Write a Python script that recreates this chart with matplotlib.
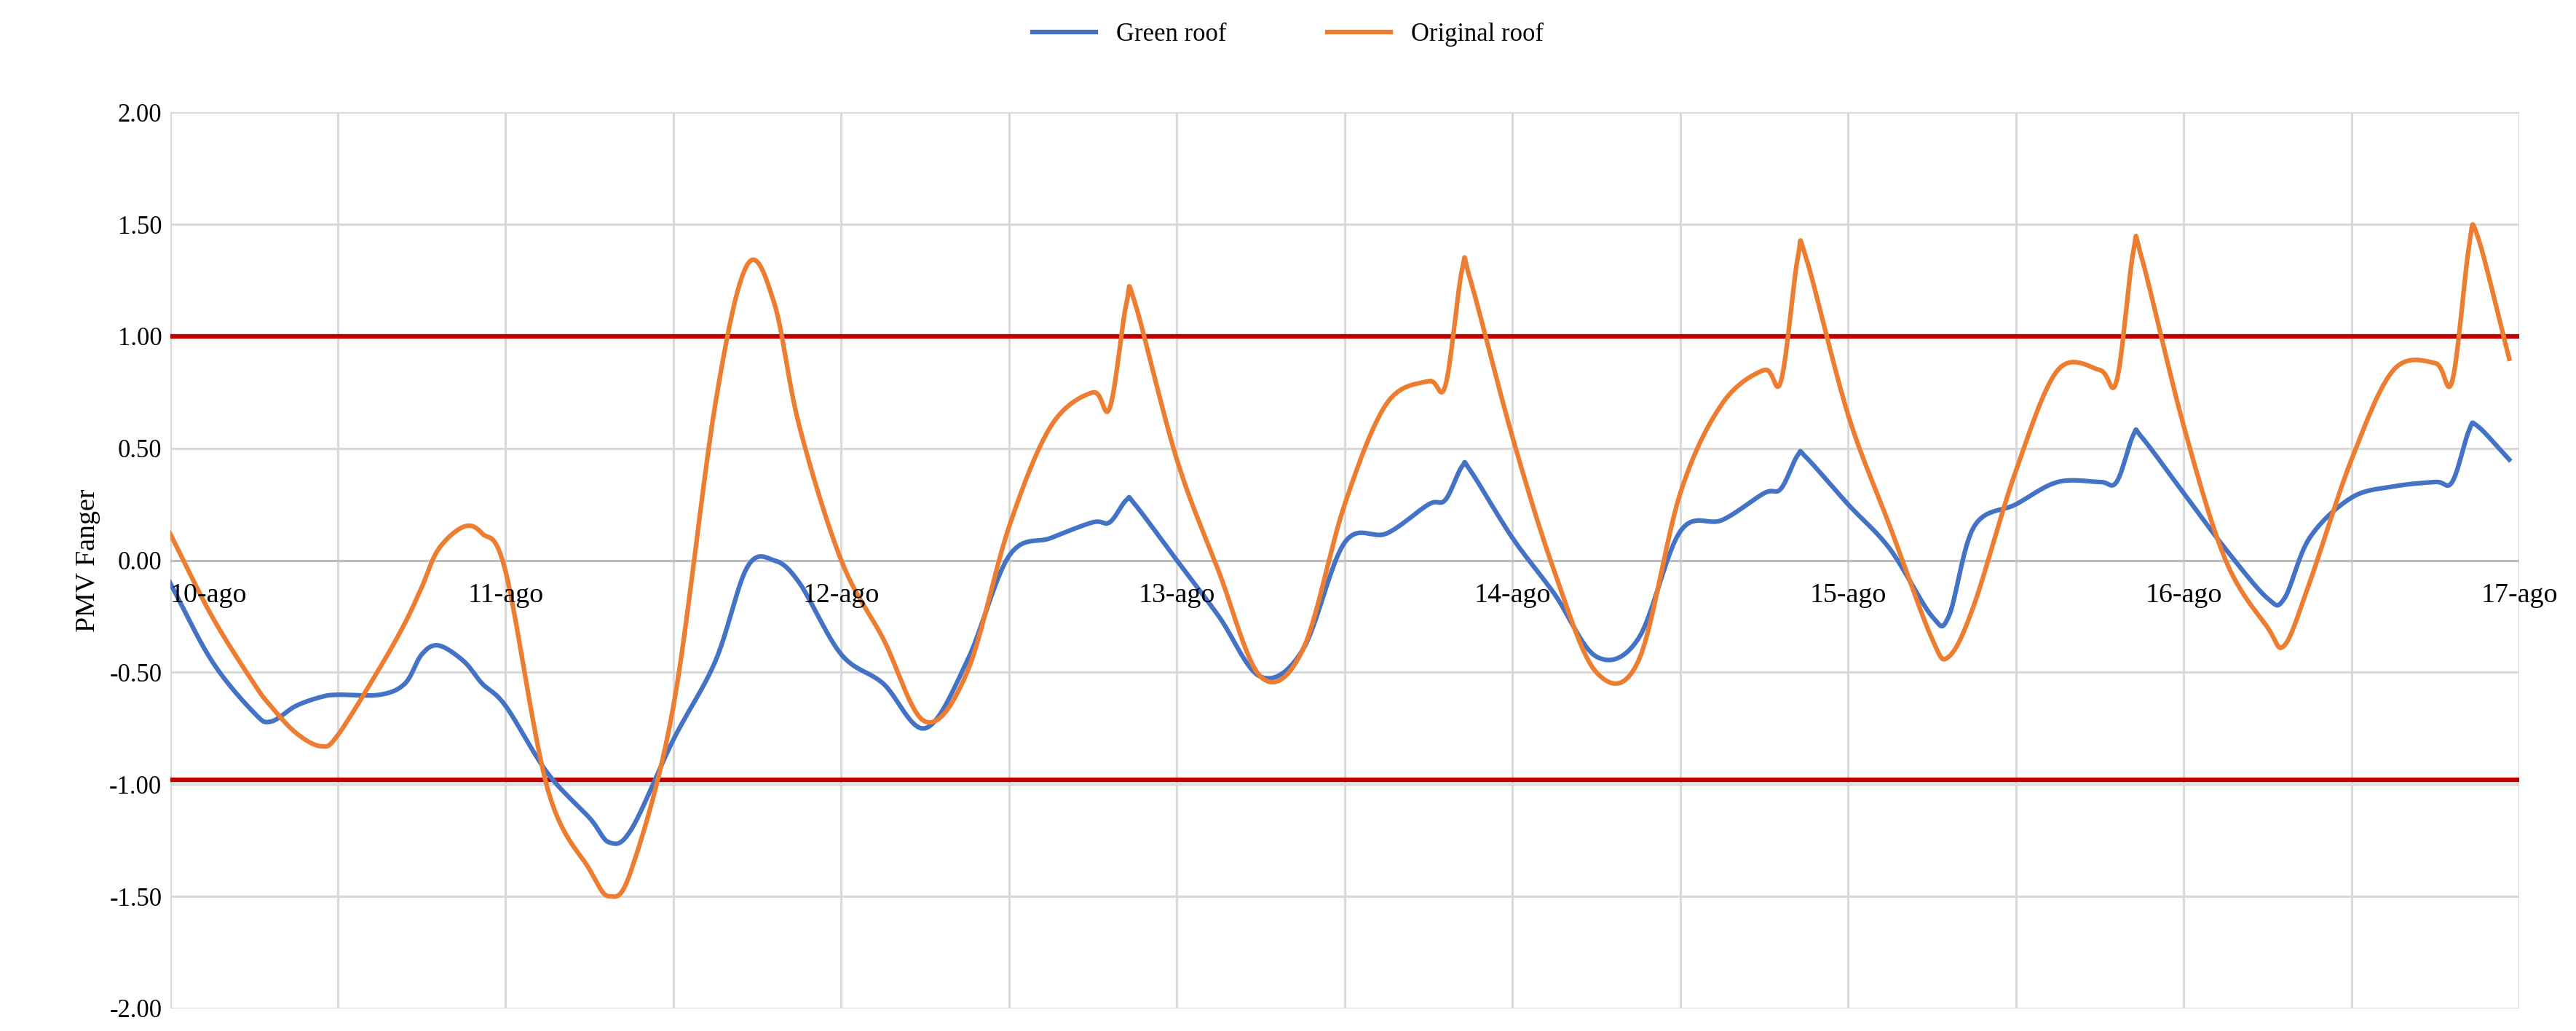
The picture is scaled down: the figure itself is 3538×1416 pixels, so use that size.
import numpy as np
import matplotlib
matplotlib.use("Agg")
import matplotlib.pyplot as plt

plt.rcParams["font.family"] = ["Liberation Serif", "DejaVu Serif"]

# time in days from 10-ago
days = [0, 0.125, 0.25, 0.3, 0.375, 0.45, 0.5, 0.625, 0.7, 0.75, 0.8, 0.875, 0.93,
        1.0, 1.125, 1.25, 1.31, 1.375, 1.5, 1.625, 1.72, 1.8, 1.875,
        2.0, 2.125, 2.25, 2.375, 2.5, 2.625, 2.75, 2.8, 2.85, 2.875,
        3.0, 3.125, 3.25, 3.375, 3.5, 3.625, 3.75, 3.8, 3.85, 3.875,
        4.0, 4.125, 4.25, 4.375, 4.5, 4.625, 4.75, 4.8, 4.85, 4.875,
        5.0, 5.125, 5.25, 5.3, 5.375, 5.5, 5.625, 5.75, 5.8, 5.85, 5.875,
        6.0, 6.125, 6.25, 6.3, 6.375, 6.5, 6.625, 6.75, 6.8, 6.85, 6.875, 6.97]

green = [-0.10, -0.45, -0.68, -0.72, -0.65, -0.61, -0.60, -0.60, -0.55, -0.42, -0.38, -0.45, -0.55,
         -0.65, -0.95, -1.15, -1.26, -1.20, -0.80, -0.45, -0.03, 0.00, -0.10,
         -0.42, -0.55, -0.75, -0.45, 0.02, 0.10, 0.17, 0.17, 0.27, 0.25,
         0.00, -0.25, -0.52, -0.40, 0.08, 0.12, 0.25, 0.27, 0.42, 0.40,
         0.10, -0.15, -0.43, -0.35, 0.13, 0.18, 0.30, 0.32, 0.47, 0.46,
         0.25, 0.05, -0.25, -0.25, 0.15, 0.25, 0.35, 0.35, 0.35, 0.56, 0.55,
         0.30, 0.05, -0.17, -0.17, 0.10, 0.28, 0.33, 0.35, 0.35, 0.58, 0.60, 0.45]

original = [0.12, -0.25, -0.55, -0.65, -0.77, -0.83, -0.78, -0.48, -0.28, -0.12, 0.05, 0.15, 0.12,
            -0.05, -1.02, -1.38, -1.50, -1.38, -0.65, 0.70, 1.32, 1.15, 0.60,
            0.00, -0.35, -0.72, -0.50, 0.15, 0.60, 0.75, 0.68, 1.15, 1.15,
            0.45, -0.05, -0.52, -0.40, 0.25, 0.70, 0.80, 0.78, 1.30, 1.25,
            0.55, -0.05, -0.50, -0.45, 0.30, 0.70, 0.85, 0.80, 1.35, 1.35,
            0.65, 0.15, -0.35, -0.43, -0.20, 0.40, 0.85, 0.85, 0.80, 1.38, 1.35,
            0.60, 0.00, -0.30, -0.38, -0.10, 0.45, 0.85, 0.88, 0.80, 1.40, 1.45, 0.90]

day_labels = ["10-ago", "11-ago", "12-ago", "13-ago", "14-ago", "15-ago", "16-ago", "17-ago"]
limits = [1.0, -0.98]


def smooth(x, y, n=12):
    # Catmull-Rom spline through the points, like Excel's smoothed line
    x = np.asarray(x, float)
    y = np.asarray(y, float)
    px = np.concatenate([[2 * x[0] - x[1]], x, [2 * x[-1] - x[-2]]])
    py = np.concatenate([[2 * y[0] - y[1]], y, [2 * y[-1] - y[-2]]])
    xs, ys = [], []
    t = np.linspace(0, 1, n, endpoint=False)
    for i in range(1, len(px) - 2):
        for p, out in ((px, xs), (py, ys)):
            p0, p1, p2, p3 = p[i - 1], p[i], p[i + 1], p[i + 2]
            out.extend(0.5 * (2 * p1 + (-p0 + p2) * t
                              + (2 * p0 - 5 * p1 + 4 * p2 - p3) * t ** 2
                              + (-p0 + 3 * p1 - 3 * p2 + p3) * t ** 3))
    xs.append(x[-1])
    ys.append(y[-1])
    return xs, ys


fig = plt.figure(figsize=(3538 / 227, 1416 / 227), dpi=227)
ax = fig.add_axes([0.066, 0.022, 0.912, 0.869])

ax.set_xlim(0, 7)
ax.set_ylim(-2, 2)
ax.set_xticks(np.arange(0, 7.01, 0.5))
ax.set_xticklabels([])
ax.set_yticks(np.arange(-2, 2.01, 0.5))
ax.set_yticklabels(["%.2f" % v for v in np.arange(-2, 2.01, 0.5)], fontsize=11)
ax.tick_params(length=0)
ax.grid(True, color="#d9d9d9", linewidth=1)
for s in ax.spines.values():
    s.set_visible(False)
ax.axhline(0, color="#bfbfbf", linewidth=1)

for y in limits:
    ax.axhline(y, color="#c00000", linewidth=2)

ax.plot(*smooth(days, green), color="#4472c4", linewidth=2, label="Green roof")
ax.plot(*smooth(days, original), color="#ed7d31", linewidth=2, label="Original roof")

for i, lab in enumerate(day_labels):
    ha = "left" if i == 0 else "center"
    ax.text(i, -0.1, lab, ha=ha, va="top", fontsize=12)

ax.set_ylabel("PMV Fanger", fontsize=12)
fig.legend(loc="upper center", ncol=2, frameon=False, fontsize=11,
           bbox_to_anchor=(0.5, 1.0), handlelength=2.5, columnspacing=4)

fig.savefig("out.png", dpi=227)
